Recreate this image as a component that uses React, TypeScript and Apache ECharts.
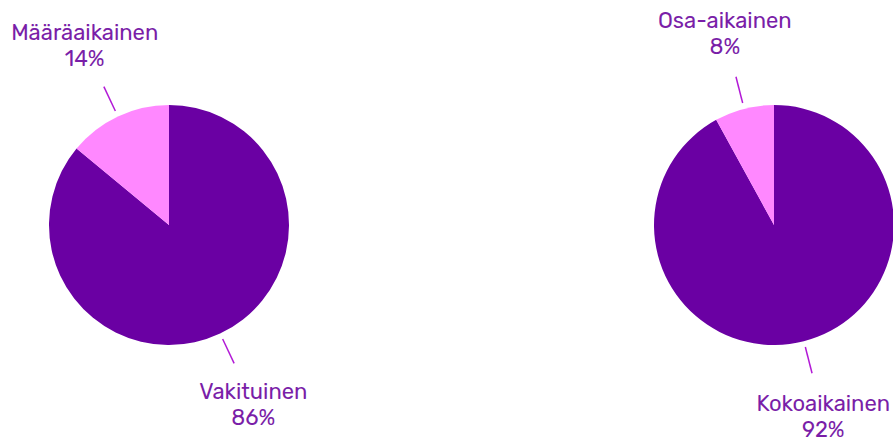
import React, { useEffect, useRef } from "react";
import * as echarts from "echarts";

const contractLabels = ["Vakituinen", "Määräaikainen"];
const contractValues = [86, 14];
const timeLabels = ["Kokoaikainen", "Osa-aikainen"];
const timeValues = [92, 8];

const colors = ["#6a00a3", "#ff88ff"];
const textColor = "#7a1ea8";
const lineColor = "#b21ad6";

function labelLayout(params: any) {
  const pts = params.labelLinePoints;
  if (!pts || pts.length < 2) return {};
  const p0 = pts[0];
  const p1 = pts[1];
  const dx = p1[0] - p0[0];
  const dy = p1[1] - p0[1];
  const len = Math.hypot(dx, dy) || 1;
  const ux = dx / len;
  const uy = dy / len;
  return {
    x: p0[0] + ux * 78,
    y: p0[1] + uy * 78,
    align: "center",
    verticalAlign: "middle",
    labelLinePoints: [
      [p0[0] + ux * 6, p0[1] + uy * 6],
      [p0[0] + ux * 33, p0[1] + uy * 33],
    ],
  };
}

function makeSeries(names: string[], values: number[], center: [number, number]) {
  return {
    type: "pie",
    center,
    radius: 120,
    startAngle: 90,
    clockwise: true,
    data: names.map((n, i) => ({ name: n, value: values[i], itemStyle: { color: colors[i] } })),
    label: {
      show: true,
      position: "outside",
      formatter: "{b}\n{d}%",
      color: textColor,
      fontSize: 22,
      lineHeight: 26,
      fontFamily: "Rubik, 'Noto Sans', sans-serif",
      align: "center",
      overflow: "none",
    },
    labelLine: {
      show: true,
      length: 27,
      length2: 0,
      lineStyle: { color: lineColor, width: 1.5 },
    },
    labelLayout,
    emphasis: { disabled: true },
  };
}

export default function App() {
  const ref = useRef<HTMLDivElement>(null);
  useEffect(() => {
    if (!ref.current) return;
    const chart = echarts.init(ref.current, undefined, { renderer: "svg" });
    chart.setOption({
      animation: false,
      backgroundColor: "#ffffff",
      series: [
        makeSeries(contractLabels, contractValues, [169, 225]),
        makeSeries(timeLabels, timeValues, [774, 225]),
      ],
    });
    return () => chart.dispose();
  }, []);
  return (
    <div
      ref={ref}
      style={{ position: "fixed", left: 0, top: 0, width: 893, height: 439 }}
    />
  );
}
